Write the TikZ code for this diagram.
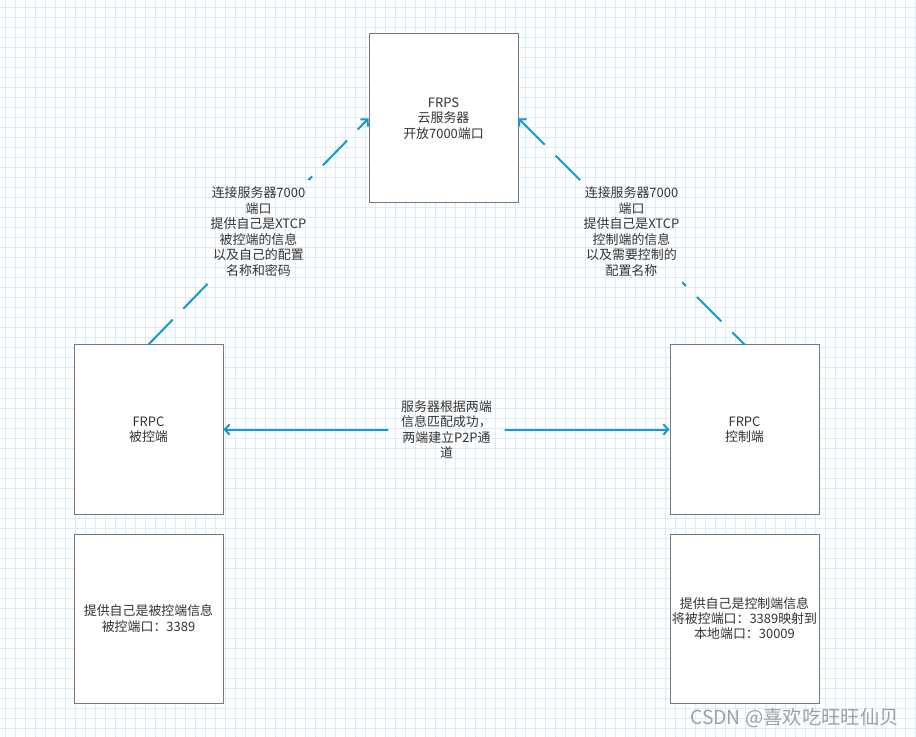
\documentclass[tikz,border=0pt]{standalone}
\usepackage{fontspec}
\setmainfont{Noto Sans CJK SC}
\usetikzlibrary{arrows.meta,calc}
\definecolor{gridc}{RGB}{218,236,247}
\definecolor{boxc}{RGB}{120,120,120}
\definecolor{txtc}{RGB}{51,51,51}
\definecolor{arrc}{RGB}{16,155,208}
\definecolor{wmc}{RGB}{160,160,160}
\tikzset{
  boxnode/.style={draw=boxc, fill=white, line width=0.75pt, minimum width=111.75pt, minimum height=126.75pt,
    inner sep=0pt, align=center, text=txtc, font=\fontsize{9.7}{11.5}\selectfont},
  lblnode/.style={align=center, text=txtc, font=\fontsize{9.7}{11.6}\selectfont, inner xsep=2pt, inner ysep=5pt},
  hlblnode/.style={lblnode, inner xsep=9.5pt, inner ysep=4pt},
  conn/.style={draw=arrc, line width=1.5pt},
  dashconn/.style={conn, dash pattern=on 26pt off 11.5pt},
  tip/.tip={Straight Barb[length=3.6pt, width=7.8pt, line width=1.5pt]},
  gridline/.style={draw=gridc, line width=0.75pt}
}
\begin{document}
\begin{tikzpicture}[x=0.75pt, y=-0.75pt]
\useasboundingbox (0,0) rectangle (916,737);
\fill[white] (0,0) rectangle (916,737);
\foreach \gx in {5,15,...,915} \draw[gridline] (\gx,0) -- (\gx,737);
\foreach \gy in {8,18,...,735} \draw[gridline] (0,\gy) -- (916,\gy);

\node[boxnode] (frps) at (443.5,118.5) {FRPS\\云服务器\\开放7000端口};
\node[boxnode] (cl) at (148.5,429.5) {FRPC\\被控端};
\node[boxnode] (cr) at (744.5,429.5) {FRPC\\控制端};
\node[boxnode] (il) at (148.5,618.5) {提供自己是被控端信息\\被控端口：3389};
\node[boxnode] (ir) at (744.5,618.5) {提供自己是控制端信息\\将被控端口：3389映射到\\本地端口：30009};

\node[lblnode] (l1) at ($(cl.north)!0.5!(frps.west)$) {连接服务器7000\\端口\\提供自己是XTCP\\被控端的信息\\以及自己的配置\\名称和密码};
\node[lblnode] (l2) at ($(cr.north)!0.5!(frps.east)$) {连接服务器7000\\端口\\提供自己是XTCP\\控制端的信息\\以及需要控制的\\配置名称};
\node[hlblnode] (l3) at ($(cl.east)!0.5!(cr.west)$) {服务器根据两端\\信息匹配成功，\\两端建立P2P通\\道};

\begin{scope}[even odd rule]
  \clip (0,0) rectangle (916,737)
    (l1.south west) rectangle (l1.north east)
    (l2.south west) rectangle (l2.north east)
    (l3.south west) rectangle (l3.north east);
  \draw[dashconn, -tip] (cl.north) -- (frps.west);
  \draw[dashconn, tip-] (frps.east) -- (cr.north);
  \draw[conn, tip-tip] (cl.east) -- (cr.west);
\end{scope}

\node[text=wmc, font=\fontsize{14.5}{16}\selectfont, inner sep=0pt] (wm) at (794.5,718) {CSDN @喜欢吃旺旺仙贝};
\end{tikzpicture}
\end{document}
